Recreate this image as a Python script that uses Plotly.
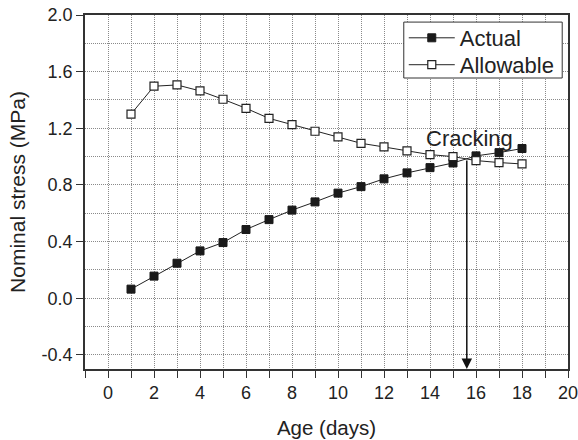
import plotly.graph_objects as go

age = list(range(1, 19))
actual = [0.064, 0.156, 0.247, 0.334, 0.393, 0.485, 0.555, 0.622, 0.680,
          0.742, 0.788, 0.843, 0.885, 0.922, 0.955, 1.005, 1.028, 1.057]
allowable = [1.30, 1.497, 1.506, 1.464, 1.405, 1.341, 1.27, 1.226, 1.179,
             1.139, 1.094, 1.068, 1.040, 1.014, 1.000, 0.972, 0.958, 0.948]
y_tick_vals = [-0.4, 0.0, 0.4, 0.8, 1.2, 1.6, 2.0]
y_tick_text = ["-0.4", "0.0", "0.4", "0.8", "1.2", "1.6", "2.0"]
x_tick_vals = [0, 2, 4, 6, 8, 10, 12, 14, 16, 18, 20]
crack_x = 15.6
crack_y_top = 0.983
crack_label_y = 1.13
crack_label = "Cracking"

FONT = "Liberation Sans, Arial, sans-serif"
LINE = "#222222"
TXT = "#222222"

fig = go.Figure()
fig.add_trace(go.Scatter(
    x=age, y=actual, name="Actual", mode="lines+markers", legend="legend",
    line=dict(color=LINE, width=1),
    marker=dict(symbol="square", size=8, color="#1a1a1a", line=dict(color="#1a1a1a", width=1)),
))
fig.add_trace(go.Scatter(
    x=age, y=allowable, name="Allowable", mode="lines+markers", legend="legend2",
    line=dict(color=LINE, width=1),
    marker=dict(symbol="square", size=8, color="white", line=dict(color="#222222", width=1.2)),
))

fig.add_annotation(
    x=crack_x, y=-0.5, ax=crack_x, ay=crack_y_top, xref="x", yref="y",
    axref="x", ayref="y", text="", showarrow=True, arrowhead=2,
    arrowsize=1.4, arrowwidth=1.5, arrowcolor="#111111", standoff=0,
)
fig.add_annotation(
    x=crack_x, y=crack_label_y, xref="x", yref="y", text=crack_label, showarrow=False,
    font=dict(family=FONT, size=22, color=TXT), xshift=3,
)

# legend frame
fig.add_shape(type="rect", xref="paper", yref="paper",
              x0=0.660, x1=0.988, y0=0.822, y1=0.980,
              line=dict(color="#333333", width=1), fillcolor="white", layer="above")

axis_common = dict(
    showline=True, linecolor="#333333", linewidth=1.5, mirror=True,
    ticks="outside", ticklen=7, tickwidth=1.3, tickcolor="#333333",
    showgrid=False, zeroline=False, automargin=False, ticklabeloverflow="allow",
    tickfont=dict(family=FONT, size=18, color=TXT),
)

fig.update_xaxes(
    **axis_common, range=[-1, 20], tickmode="array", tickvals=x_tick_vals,
    minor=dict(dtick=1, tick0=1, ticks="outside", ticklen=7, tickcolor="#333333",
               showgrid=True, gridcolor="#8a8a8a", griddash="1px,1px", gridwidth=1),
    title=dict(text="Age (days)", font=dict(family=FONT, size=20.5, color=TXT), standoff=18),
)
fig.update_yaxes(
    **axis_common, range=[-0.5, 2.0], tickmode="array", tickvals=y_tick_vals,
    ticktext=y_tick_text,
    minor=dict(dtick=0.2, tick0=0.2, ticks="", showgrid=True, gridcolor="#8a8a8a",
               griddash="1px,1px", gridwidth=1),
    title=dict(text="Nominal stress (MPa)", font=dict(family=FONT, size=21, color=TXT), standoff=10),
)

leg_common = dict(
    xanchor="left", yanchor="middle", bgcolor="rgba(0,0,0,0)", borderwidth=0,
    font=dict(family=FONT, size=22, color=TXT), itemwidth=46,
)

fig.update_layout(
    width=578, height=440,
    margin=dict(l=85, r=10, t=15, b=71),
    paper_bgcolor="white", plot_bgcolor="white",
    font=dict(family=FONT, color=TXT),
    showlegend=True,
    legend=dict(x=0.660, y=0.935, **leg_common),
    legend2=dict(x=0.660, y=0.859, **leg_common),
)

fig.write_html("out.html", config={"displayModeBar": False},
               post_script="document.body.style.margin='0px';")
